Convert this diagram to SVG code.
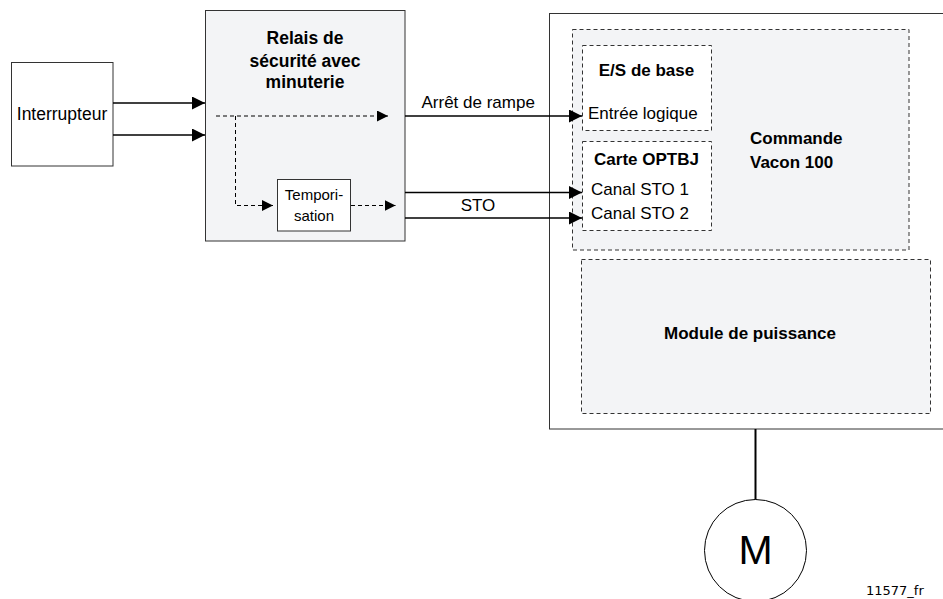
<svg xmlns="http://www.w3.org/2000/svg" width="943" height="599" viewBox="0 0 943 599">
<style>
.t{font-family:"Liberation Sans",Arial,sans-serif;font-size:17px;fill:#000}
.b{font-weight:bold}
.box{fill:#fff;stroke:#333;stroke-width:1}
.gray{fill:#f3f4f6;stroke:#333;stroke-width:1}
.dbox{stroke:#333;stroke-width:1;stroke-dasharray:4,3}
.ln{fill:none;stroke:#000;stroke-width:1.5}
.dl{fill:none;stroke:#000;stroke-width:1;stroke-dasharray:4,3}
</style>
<defs>
<marker id="ah" markerUnits="userSpaceOnUse" markerWidth="14" markerHeight="13" refX="13" refY="6.5" orient="auto">
<path d="M0,0 L13,6.5 L0,13 z" fill="#000"/>
</marker>
<marker id="ahs" markerUnits="userSpaceOnUse" markerWidth="12" markerHeight="11" refX="11" refY="5.5" orient="auto">
<path d="M0,0 L11,5.5 L0,11 z" fill="#000"/>
</marker>
</defs>
<rect width="943" height="599" fill="#fff"/>

<g id="vacon">
<rect x="549.5" y="13.5" width="400" height="415.5" class="box"/>
</g>
<g id="commande">
<rect x="572.5" y="29.5" width="336.5" height="220.5" class="dbox" fill="#f3f4f6"/>
<text class="t b" x="750" y="144">Commande</text>
<text class="t b" x="750" y="168">Vacon 100</text>
</g>
<g id="es-base">
<rect x="582.5" y="45.5" width="129" height="85" class="dbox" fill="#fff"/>
<text class="t b" x="646.5" y="76" text-anchor="middle">E/S de base</text>
<text class="t" x="588" y="119">Entrée logique</text>
</g>
<g id="optbj">
<rect x="582.5" y="141.5" width="129" height="89" class="dbox" fill="#fff"/>
<text class="t b" x="646.5" y="165" text-anchor="middle">Carte OPTBJ</text>
<text class="t" x="591" y="195">Canal STO 1</text>
<text class="t" x="591" y="219">Canal STO 2</text>
</g>
<g id="puissance">
<rect x="581.5" y="259.5" width="349" height="154" class="dbox" fill="#f3f4f6"/>
<text class="t b" x="750" y="339" text-anchor="middle">Module de puissance</text>
</g>

<g id="interrupteur">
<rect x="11.5" y="62.5" width="101.5" height="103.5" class="box"/>
<text class="t" x="62" y="120" text-anchor="middle" style="font-size:17.5px">Interrupteur</text>
</g>
<g id="relais">
<rect x="205.5" y="10.5" width="199.5" height="230.5" class="gray"/>
<text class="t b" x="305" y="44" text-anchor="middle" style="font-size:17.5px">Relais de</text>
<text class="t b" x="305" y="67" text-anchor="middle" style="font-size:17.5px">sécurité avec</text>
<text class="t b" x="305" y="88" text-anchor="middle" style="font-size:17.5px">minuterie</text>
</g>
<g id="temporisation">
<rect x="277.5" y="179.5" width="73" height="51.5" class="box"/>
<text class="t" x="314" y="200" text-anchor="middle" style="font-size:15px">Tempori-</text>
<text class="t" x="314" y="221" text-anchor="middle" style="font-size:15px">sation</text>
</g>
<g id="moteur">
<circle cx="755.5" cy="550.5" r="51" fill="#fff" stroke="#000" stroke-width="1"/>
<text x="755.5" y="564" text-anchor="middle" style="font-family:'Liberation Sans',Arial,sans-serif;font-size:41px">M</text>
</g>

<g id="connectors">
<line x1="113" y1="103" x2="205" y2="103" class="ln" marker-end="url(#ah)"/>
<line x1="113" y1="135" x2="205" y2="135" class="ln" marker-end="url(#ah)"/>
<line x1="216" y1="116" x2="388" y2="116" class="dl" marker-end="url(#ahs)"/>
<polyline points="235.5,116 235.5,205.5 273,205.5" class="dl" marker-end="url(#ahs)"/>
<line x1="351" y1="205.5" x2="395.5" y2="205.5" class="dl" marker-end="url(#ahs)"/>
<line x1="405" y1="116" x2="582" y2="116" class="ln" marker-end="url(#ah)"/>
<line x1="405" y1="192.5" x2="582" y2="192.5" class="ln" marker-end="url(#ah)"/>
<line x1="405" y1="218" x2="582" y2="218" class="ln" marker-end="url(#ah)"/>
<line x1="755.5" y1="429" x2="755.5" y2="499.5" stroke="#000" stroke-width="2"/>
</g>
<text class="t" x="421.5" y="108">Arrêt de rampe</text>
<text class="t" x="478" y="211" text-anchor="middle">STO</text>
<text x="866" y="595" style="font-family:'DejaVu Sans',Verdana,sans-serif;font-size:13px">11577_fr</text>
</svg>
